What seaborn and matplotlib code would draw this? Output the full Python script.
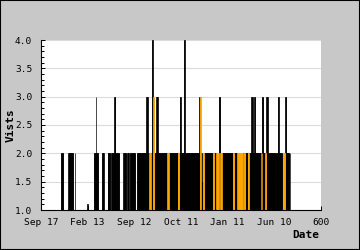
import numpy as np
import pandas as pd
import matplotlib
matplotlib.use("Agg")
import matplotlib.pyplot as plt
from matplotlib.ticker import MultipleLocator, FixedLocator, FixedFormatter
from matplotlib.patches import Rectangle
import seaborn as sns

# Visits per day as (value, number of consecutive days)
visit_runs = [
    (1, 43), (2, 5), (1, 11), (2, 9), (1, 1), (2, 1), (1, 3), (2, 1), (1, 26),
    (1.1, 1), (1, 13), (2, 4), (3, 1), (2, 4), (1, 8), (2, 4), (1, 8), (2, 6),
    (1, 2), (2, 6), (3, 3), (2, 8), (1, 9), (2, 6), (1, 2), (2, 3), (1, 3),
    (2, 11), (1, 4), (2, 20), (3, 3), (2, 9), (4, 2), (2, 1), (3, 2), (2, 4),
    (3, 4), (2, 47), (3, 2), (2, 6), (4, 2), (2, 32), (3, 3), (2, 2), (1.5, 2),
    (2, 34), (3, 3), (2, 67), (3, 3), (2, 3), (3, 2), (2, 15), (3, 3), (2, 6),
    (3, 3), (2, 22), (3, 2), (2, 7), (1, 2), (2, 5), (3, 2), (2, 8),
]
x_tick_labels = ["Sep 17", "Feb 13", "Sep 12", "Oct 11", "Jan 11", "Jun 10", "600"]

# days whose bar shows its orange fill (style only)
orange_days = [(232, 235), (240, 242), (271, 273), (293, 296), (341, 342),
               (347, 349), (369, 371), (376, 380), (385, 387), (411, 414),
               (421, 432), (435, 437), (443, 445), (472, 473), (481, 482),
               (519, 523)]

visits = np.concatenate([[v] * n for v, n in visit_runs])
day = np.arange(len(visits))
tone = np.array(["black"] * len(visits), dtype=object)
for a, b in orange_days:
    tone[a:b + 1] = "orange"

df = pd.DataFrame({"day": day, "visits": visits, "tone": tone})

mono = ["DejaVu Sans Mono"]
plt.rcParams["font.family"] = mono

fig = plt.figure(figsize=(3.6, 2.5), dpi=100, facecolor="#c8c8c8")
ax = fig.add_axes([41 / 360, 40 / 250, 280 / 360, 170 / 250])
ax.set_facecolor("white")

sns.barplot(data=df, x="day", y="visits", hue="tone",
            palette={"black": "#000000", "orange": "#ffa500"},
            native_scale=True, dodge=False, width=1.0, saturation=1,
            errorbar=None, legend=False, linewidth=0.5, ax=ax)
for p in ax.patches:
    p.set_edgecolor(p.get_facecolor())

ax.set_xlim(0, 600)
ax.set_ylim(1, 4)
ax.xaxis.set_major_locator(FixedLocator([0, 100, 200, 300, 400, 500, 600]))
ax.xaxis.set_major_formatter(FixedFormatter(x_tick_labels))
ax.yaxis.set_major_locator(MultipleLocator(0.5))
ax.yaxis.set_minor_locator(MultipleLocator(0.1))
ax.yaxis.set_major_formatter(matplotlib.ticker.FormatStrFormatter("%.1f"))

ax.grid(axis="y", color="#dcdcdc", linewidth=0.8)
ax.grid(axis="x", visible=False)
ax.set_axisbelow(True)

for s in ["top", "right"]:
    ax.spines[s].set_visible(False)
for s in ["left", "bottom"]:
    ax.spines[s].set_color("black")
    ax.spines[s].set_linewidth(0.8)

ax.tick_params(axis="both", which="major", direction="in", length=3, width=0.7,
               labelsize=6.8, colors="black")
ax.tick_params(axis="y", which="major", pad=6.3)
ax.tick_params(axis="x", which="major", pad=5.5)
ax.tick_params(axis="y", which="minor", direction="in", length=2, width=0.7)
ax.set_xlabel("")
ax.set_ylabel("")

fig.text(319 / 360, 1 - 235.5 / 250, "Date", ha="right", va="center",
         fontsize=8, fontweight="bold", family=mono)
fig.text(10.5 / 360, 0.5, "Vists", ha="center", va="center", rotation=90,
         fontsize=8, fontweight="bold", family=mono)

fig.patches.append(Rectangle((0, 0), 1, 1, transform=fig.transFigure,
                             fill=False, edgecolor="black", linewidth=1.5,
                             zorder=10))

fig.savefig("out.png", dpi=100, facecolor=fig.get_facecolor())
